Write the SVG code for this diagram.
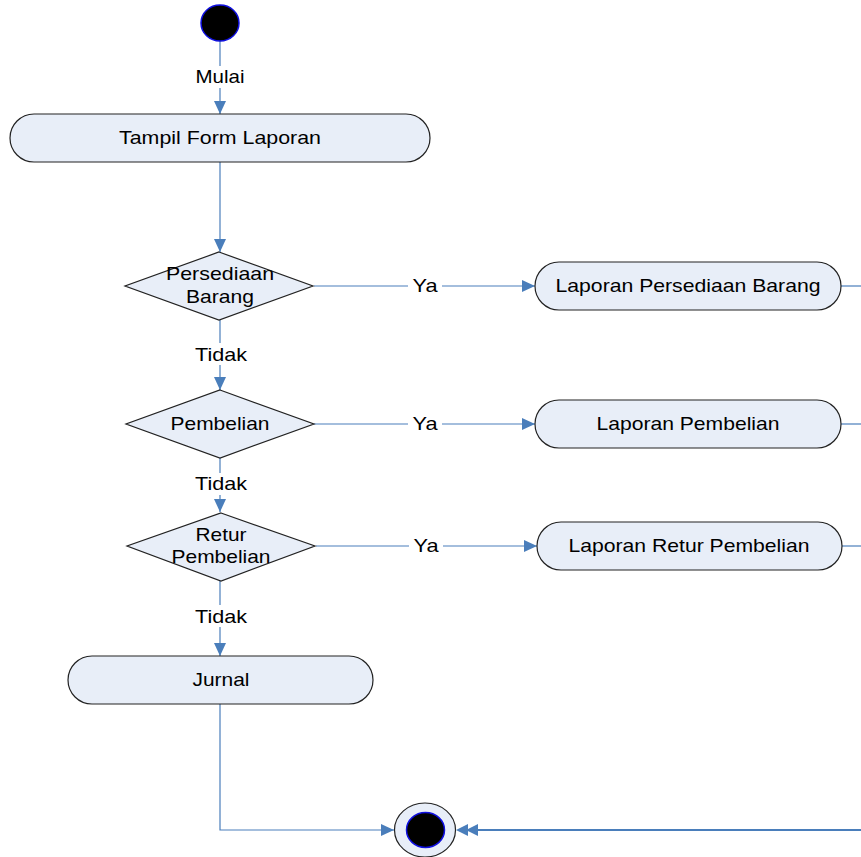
<svg xmlns="http://www.w3.org/2000/svg" width="861" height="857" viewBox="0 0 861 857">
<defs>
<style>
.node{fill:#e8eef8;stroke:#222;stroke-width:1.2}
.c{fill:none;stroke:#4a7ebb;stroke-width:1.2}
.t{font-family:"Liberation Sans",Arial,sans-serif;font-size:18.5px;fill:#000;text-anchor:middle}
.lb{fill:#fff}
</style>
<marker id="ah" markerWidth="14" markerHeight="12" refX="13" refY="6" orient="auto" markerUnits="userSpaceOnUse">
<path d="M0,0 L13,6 L0,12 Z" fill="#4a7ebb"/>
</marker>
</defs>
<rect width="861" height="857" fill="#fff"/>
<g id="connectors">
<line class="c" x1="220" y1="41" x2="220" y2="114" marker-end="url(#ah)"/>
<line class="c" x1="220" y1="162" x2="220" y2="252" marker-end="url(#ah)"/>
<line class="c" x1="314" y1="286" x2="535" y2="286" marker-end="url(#ah)"/>
<line class="c" x1="220" y1="320" x2="220" y2="390" marker-end="url(#ah)"/>
<line class="c" x1="314" y1="424" x2="535" y2="424" marker-end="url(#ah)"/>
<line class="c" x1="220" y1="458" x2="220" y2="512" marker-end="url(#ah)"/>
<line class="c" x1="316" y1="546" x2="537" y2="546" marker-end="url(#ah)"/>
<line class="c" x1="220" y1="581" x2="220" y2="656" marker-end="url(#ah)"/>
<polyline class="c" points="220,704 220,830 394,830" marker-end="url(#ah)"/>
<line class="c" x1="841" y1="286" x2="861" y2="286"/>
<line class="c" x1="841" y1="424" x2="861" y2="424"/>
<line class="c" x1="842" y1="546" x2="861" y2="546"/>
<line x1="861" y1="830" x2="470" y2="830" stroke="#4a7ebb" stroke-width="2"/>
<path d="M456,830 L468,824 L468,836 Z M466,830 L478,824 L478,836 Z" fill="#4a7ebb"/>
<rect class="lb" x="190" y="66" width="60" height="22"/>
<text class="t" x="220" y="83" textLength="49" lengthAdjust="spacingAndGlyphs">Mulai</text>
<rect class="lb" x="408" y="276" width="34" height="20"/>
<text class="t" x="425" y="292" textLength="25" lengthAdjust="spacingAndGlyphs">Ya</text>
<rect class="lb" x="408" y="414" width="34" height="20"/>
<text class="t" x="425" y="430" textLength="25" lengthAdjust="spacingAndGlyphs">Ya</text>
<rect class="lb" x="409" y="536" width="34" height="20"/>
<text class="t" x="426" y="552" textLength="25" lengthAdjust="spacingAndGlyphs">Ya</text>
<rect class="lb" x="190" y="343" width="60" height="22"/>
<text class="t" x="221" y="361" textLength="52" lengthAdjust="spacingAndGlyphs">Tidak</text>
<rect class="lb" x="190" y="473" width="60" height="22"/>
<text class="t" x="221" y="490" textLength="52" lengthAdjust="spacingAndGlyphs">Tidak</text>
<rect class="lb" x="190" y="605" width="60" height="22"/>
<text class="t" x="221" y="623" textLength="52" lengthAdjust="spacingAndGlyphs">Tidak</text>
</g>
<g id="start">
<ellipse cx="220" cy="23" rx="19" ry="18" fill="#000" stroke="#1010e0" stroke-width="1.5"/>
</g>
<g id="tampil">
<rect class="node" x="10" y="114" width="420" height="48" rx="24" ry="24"/>
<text class="t" x="220" y="144" textLength="202" lengthAdjust="spacingAndGlyphs">Tampil Form Laporan</text>
</g>
<g id="d1">
<polygon class="node" points="219,252 313,286 219,320 125,286"/>
<text class="t" x="220" y="280" textLength="108" lengthAdjust="spacingAndGlyphs">Persediaan</text>
<text class="t" x="220" y="303" textLength="68" lengthAdjust="spacingAndGlyphs">Barang</text>
</g>
<g id="lap1">
<rect class="node" x="535" y="262" width="306" height="48" rx="24" ry="24"/>
<text class="t" x="688" y="292" textLength="265" lengthAdjust="spacingAndGlyphs">Laporan Persediaan Barang</text>
</g>
<g id="d2">
<polygon class="node" points="220,390 314,424 220,458 126,424"/>
<text class="t" x="220" y="430" textLength="99" lengthAdjust="spacingAndGlyphs">Pembelian</text>
</g>
<g id="lap2">
<rect class="node" x="535" y="400" width="306" height="48" rx="24" ry="24"/>
<text class="t" x="688" y="430" textLength="183" lengthAdjust="spacingAndGlyphs">Laporan Pembelian</text>
</g>
<g id="d3">
<polygon class="node" points="221,513 315,546 221,581 127,546"/>
<text class="t" x="221" y="541" textLength="51" lengthAdjust="spacingAndGlyphs">Retur</text>
<text class="t" x="221" y="563" textLength="99" lengthAdjust="spacingAndGlyphs">Pembelian</text>
</g>
<g id="lap3">
<rect class="node" x="537" y="522" width="305" height="48" rx="24" ry="24"/>
<text class="t" x="689" y="552" textLength="241" lengthAdjust="spacingAndGlyphs">Laporan Retur Pembelian</text>
</g>
<g id="jurnal">
<rect class="node" x="68" y="656" width="305" height="48" rx="24" ry="24"/>
<text class="t" x="221" y="686" textLength="57" lengthAdjust="spacingAndGlyphs">Jurnal</text>
</g>
<g id="end">
<ellipse class="node" cx="425" cy="830" rx="30.5" ry="27"/>
<ellipse cx="425.5" cy="830" rx="19" ry="17.5" fill="#000" stroke="#1010e0" stroke-width="1.5"/>
</g>
</svg>
